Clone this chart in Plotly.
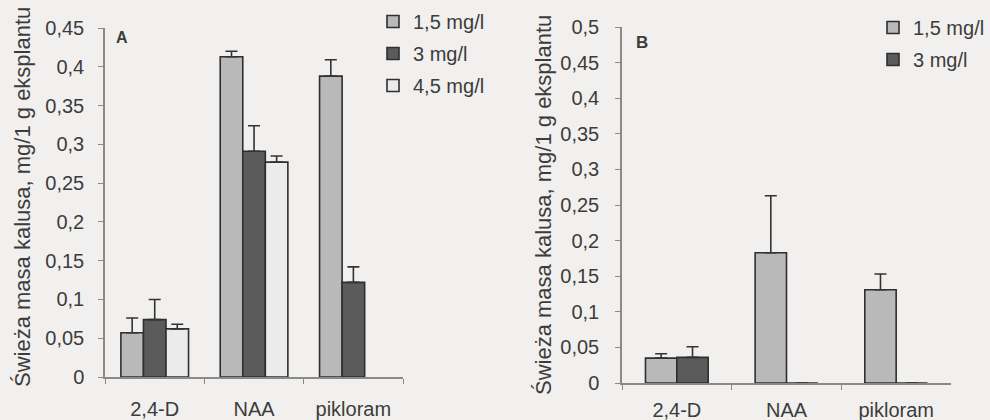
import plotly.graph_objects as go

categories = ["2,4-D", "NAA", "pikloram"]

# Panel A (three concentrations)
series_a = ["1,5 mg/l", "3 mg/l", "4,5 mg/l"]
a_15 = [0.057, 0.413, 0.388]
a_15_err = [0.019, 0.007, 0.021]
a_3 = [0.074, 0.291, 0.122]
a_3_err = [0.026, 0.033, 0.020]
a_45 = [0.062, 0.277, None]
a_45_err = [0.006, 0.008, None]

# Panel B (two concentrations)
series_b = ["1,5 mg/l", "3 mg/l"]
b_15 = [0.035, 0.183, 0.131]
b_15_err = [0.006, 0.080, 0.022]
b_3 = [0.036, 0.0, 0.0]
b_3_err = [0.015, None, None]

y_title = "Świeża masa kalusa, mg/1 g eksplantu"

fills = ["#b9b9b9", "#5b5b5b", "#ebebeb"]
outline = "#2f2f2f"
axis_col = "#8a8a8a"
text_col = "#3c3c3c"
font_fam = "Liberation Sans, Arial, sans-serif"
bg = "#f1f0ee"

fig = go.Figure()

a_vals = [a_15, a_3, a_45]
a_errs = [a_15_err, a_3_err, a_45_err]
a_width = 0.227
a_offsets = [-0.34, -0.113, 0.114]
for i, name in enumerate(series_a):
    fig.add_trace(go.Bar(
        x=categories, y=a_vals[i], name=name,
        width=a_width, offset=a_offsets[i],
        marker=dict(color=fills[i], line=dict(color=outline, width=1.6)),
        error_y=dict(type="data", symmetric=False, array=a_errs[i],
                     arrayminus=[0 if e is not None else None for e in a_errs[i]],
                     color="#333333", thickness=1.6, width=6),
        legend="legend", legendgroup="a" + str(i),
        xaxis="x", yaxis="y",
    ))

b_vals = [b_15, b_3]
b_errs = [b_15_err, b_3_err]
b_width = 0.286
b_offsets = [-0.286, 0.0]
for i, name in enumerate(series_b):
    fig.add_trace(go.Bar(
        x=categories, y=b_vals[i], name=name,
        width=b_width, offset=b_offsets[i],
        marker=dict(color=fills[i], line=dict(color=outline, width=1.6)),
        error_y=dict(type="data", symmetric=False, array=b_errs[i],
                     arrayminus=[0 if e is not None else None for e in b_errs[i]],
                     color="#333333", thickness=1.6, width=6),
        legend="legend2", legendgroup="b" + str(i),
        xaxis="x2", yaxis="y2",
    ))

W, H = 990, 420

common_axis = dict(showline=True, linecolor=axis_col, linewidth=1.5,
                   ticks="outside", ticklen=5, tickcolor=axis_col, tickwidth=1.2,
                   showgrid=False, zeroline=False, automargin=False,
                   tickfont=dict(family=font_fam, size=20, color=text_col))

fig.update_layout(
    width=W, height=H,
    margin=dict(l=0, r=0, t=0, b=0, autoexpand=False),
    paper_bgcolor=bg, plot_bgcolor=bg,
    separators=", ",
    barmode="overlay",
    font=dict(family=font_fam, color=text_col),
    xaxis=dict(domain=[105 / W, 403 / W], anchor="y", tickson="boundaries",
               ticklabelstandoff=13, **common_axis),
    yaxis=dict(domain=[1 - 377 / H, 1 - 28 / H], anchor="x", range=[0, 0.45],
               dtick=0.05, tick0=0, ticklabelstandoff=10, **common_axis),
    xaxis2=dict(domain=[622 / W, 951 / W], anchor="y2", tickson="boundaries",
                ticklabelstandoff=8, **common_axis),
    yaxis2=dict(domain=[1 - 383 / H, 1 - 27 / H], anchor="x2", range=[0, 0.5],
                dtick=0.05, tick0=0, ticklabelstandoff=12, **common_axis),
    legend=dict(x=373 / W, y=1 - 2 / H, xanchor="left", yanchor="top",
                bgcolor="rgba(0,0,0,0)", tracegroupgap=3,
                font=dict(family=font_fam, size=20, color=text_col)),
    legend2=dict(x=1.0, y=1 - 8 / H, xanchor="right", yanchor="top",
                 bgcolor="rgba(0,0,0,0)", tracegroupgap=3,
                 font=dict(family=font_fam, size=20, color=text_col)),
    annotations=[
        dict(text=y_title, x=22 / W, y=1 - 197 / H, xref="paper", yref="paper",
             textangle=-90, showarrow=False, xanchor="center", yanchor="middle",
             font=dict(family=font_fam, size=22, color=text_col)),
        dict(text=y_title, x=543 / W, y=1 - 205 / H, xref="paper", yref="paper",
             textangle=-90, showarrow=False, xanchor="center", yanchor="middle",
             font=dict(family=font_fam, size=22, color=text_col)),
        dict(text="<b>A</b>", x=122 / W, y=1 - 37 / H, xref="paper", yref="paper",
             showarrow=False, xanchor="center", yanchor="middle",
             font=dict(family=font_fam, size=16, color=text_col)),
        dict(text="<b>B</b>", x=642 / W, y=1 - 43 / H, xref="paper", yref="paper",
             showarrow=False, xanchor="center", yanchor="middle",
             font=dict(family=font_fam, size=17, color=text_col)),
    ],
)

fig.write_html(
    "out.html",
    config={"displayModeBar": False},
    post_script="document.body.style.margin='0';document.body.style.background='" + bg + "';",
)
